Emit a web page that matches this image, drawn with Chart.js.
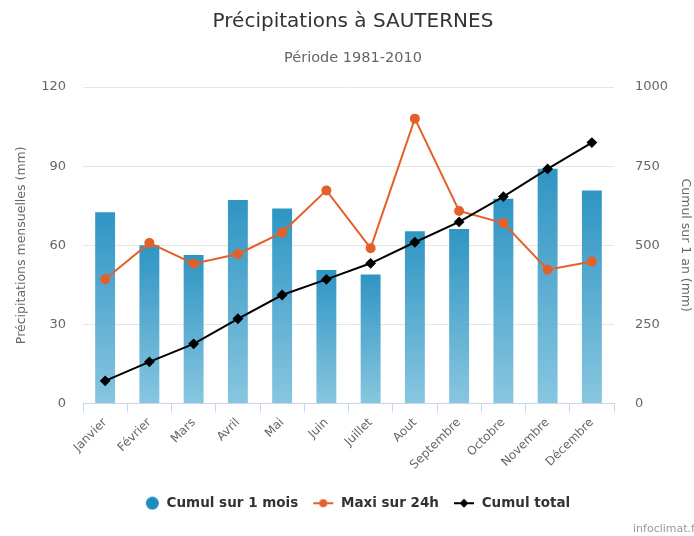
<!DOCTYPE html>
<html>
<head>
<meta charset="utf-8">
<script src="https://cdn.jsdelivr.net/npm/chart.js@4"></script>
<style>
  html, body { margin: 0; padding: 0; background: #fff; }
  #wrap { width: 694px; height: 536px; position: relative; }
</style>
</head>
<body>
<div id="wrap"><canvas id="chart" width="694" height="536"></canvas></div>
<script>
const months = ['Janvier', 'Février', 'Mars', 'Avril', 'Mai', 'Juin', 'Juillet', 'Aout', 'Septembre', 'Octobre', 'Novembre', 'Décembre'];
const cumulMois = [72.5, 60.0, 56.3, 77.2, 73.9, 50.6, 48.9, 65.3, 66.2, 77.6, 89.0, 80.8];
const maxi24h = [47.1, 60.9, 53.0, 56.7, 64.8, 80.8, 58.9, 108.0, 73.0, 68.4, 50.7, 53.8];
const cumulTotal = [71.5, 131.6, 188.6, 267.7, 342.7, 392.3, 443.0, 509.4, 573.6, 653.7, 741.3, 824.5];

const FONT = 'DejaVu Sans';

// gradient per bar, dark at the top, light at the bottom
function barGradient(context) {
    const chart = context.chart;
    if (!chart.chartArea) return '#3a9bc6';
    const y = chart.scales.y;
    const top = y.getPixelForValue(context.raw);
    const bottom = y.getPixelForValue(0);
    const g = chart.ctx.createLinearGradient(0, top, 0, bottom);
    g.addColorStop(0, '#2f95c3');
    g.addColorStop(1, '#88c6e0');
    return g;
}

// small canvases for the legend symbols
function legendSymbol(kind, color) {
    const c = document.createElement('canvas');
    c.width = 22; c.height = 14;
    const x = c.getContext('2d');
    x.fillStyle = color;
    x.strokeStyle = color;
    if (kind === 'bar') {
        x.beginPath(); x.arc(14.5, 7, 6.5, 0, Math.PI * 2); x.fill();
        return c;
    }
    x.lineWidth = 2;
    x.beginPath(); x.moveTo(1, 7); x.lineTo(21, 7); x.stroke();
    x.beginPath();
    if (kind === 'circle') {
        x.arc(11, 7, 4, 0, Math.PI * 2);
    } else {
        x.moveTo(11, 2.5); x.lineTo(15.5, 7); x.lineTo(11, 11.5); x.lineTo(6.5, 7); x.closePath();
    }
    x.fill();
    return c;
}

const symbols = [legendSymbol('bar', '#1f8bc0'), legendSymbol('circle', '#e4602a'), legendSymbol('diamond', '#000')];

// title, subtitle and credit drawn by hand so they can sit a bit right of centre
const extraText = {
    id: 'extraText',
    afterLayout(chart) {
        // legend sits a little right of centre in the original
        chart.legend.left += 7;
        chart.legend.right += 7;
    },
    afterDraw(chart) {
        const ctx = chart.ctx;
        ctx.save();
        ctx.textBaseline = 'middle';
        ctx.textAlign = 'center';
        ctx.fillStyle = '#333';
        ctx.font = '20px ' + FONT;
        ctx.fillText('Précipitations à SAUTERNES', 353, 22);
        ctx.fillStyle = '#666';
        ctx.font = '14.5px ' + FONT;
        ctx.fillText('Période 1981-2010', 353, 58);
        ctx.fillStyle = '#999';
        ctx.font = '11px ' + FONT;
        ctx.textAlign = 'left';
        ctx.fillText('infoclimat.fr', 633, 529);
        ctx.restore();
    }
};

new Chart(document.getElementById('chart'), {
    data: {
        labels: months,
        datasets: [
            {
                type: 'line',
                label: 'Cumul total',
                data: cumulTotal,
                yAxisID: 'y1',
                borderColor: '#000',
                backgroundColor: '#000',
                borderWidth: 2,
                pointStyle: 'rectRot',
                pointRadius: 4,
                pointHoverRadius: 4,
                tension: 0,
                order: 1
            },
            {
                type: 'line',
                label: 'Maxi sur 24h',
                data: maxi24h,
                yAxisID: 'y',
                borderColor: '#e4602a',
                backgroundColor: '#e4602a',
                borderWidth: 2,
                pointStyle: 'circle',
                pointRadius: 4,
                pointHoverRadius: 4,
                tension: 0,
                order: 2
            },
            {
                type: 'bar',
                label: 'Cumul sur 1 mois',
                data: cumulMois,
                yAxisID: 'y',
                backgroundColor: barGradient,
                borderWidth: 0,
                categoryPercentage: 1,
                barPercentage: 0.45,
                order: 3
            }
        ]
    },
    options: {
        responsive: false,
        animation: false,
        layout: { padding: { left: 0, right: 0, top: 87, bottom: 16 } },
        plugins: {
            title: { display: false },
            subtitle: { display: false },
            legend: {
                position: 'bottom',
                reverse: true,
                labels: {
                    color: '#333',
                    font: { family: FONT, size: 13.5, weight: 'bold' },
                    usePointStyle: true,
                    pointStyleWidth: 22,
                    padding: 14,
                    generateLabels(chart) {
                        const items = Chart.defaults.plugins.legend.labels.generateLabels(chart);
                        items.forEach(it => {
                            it.pointStyle = symbols[2 - it.datasetIndex];
                        });
                        return items;
                    }
                }
            },
            tooltip: { enabled: false }
        },
        scales: {
            x: {
                offset: true,
                grid: { display: true, drawOnChartArea: false, offset: true, color: '#ccd6eb', tickLength: 9 },
                border: { color: '#ccd6eb' },
                ticks: {
                    color: '#666',
                    font: { family: FONT, size: 12 },
                    maxRotation: 45,
                    minRotation: 45,
                    autoSkip: false,
                    padding: 3
                },
                afterFit(s) { s.height = 79; }
            },
            y: {
                position: 'left',
                min: 0,
                max: 120,
                ticks: { stepSize: 30, color: '#666', font: { family: FONT, size: 13 }, padding: 17 },
                grid: { color: '#e6e6e6', drawTicks: false },
                border: { display: false },
                title: {
                    display: true,
                    text: 'Précipitations mensuelles (mm)',
                    color: '#666',
                    font: { family: FONT, size: 12.5 },
                    padding: { top: 14, bottom: 0 }
                },
                afterFit(s) { s.width = 83; }
            },
            y1: {
                position: 'right',
                min: 0,
                max: 1000,
                ticks: {
                    stepSize: 250,
                    color: '#666',
                    font: { family: FONT, size: 13 },
                    padding: 21,
                    callback: v => String(v)
                },
                grid: { display: false, drawTicks: false },
                border: { display: false },
                title: {
                    display: true,
                    text: 'Cumul sur 1 an (mm)',
                    color: '#666',
                    font: { family: FONT, size: 12.5 },
                    padding: { top: 1.5, bottom: 0 }
                },
                afterFit(s) { s.width = 80; }
            }
        }
    },
    plugins: [extraText]
});
</script>
</body>
</html>
